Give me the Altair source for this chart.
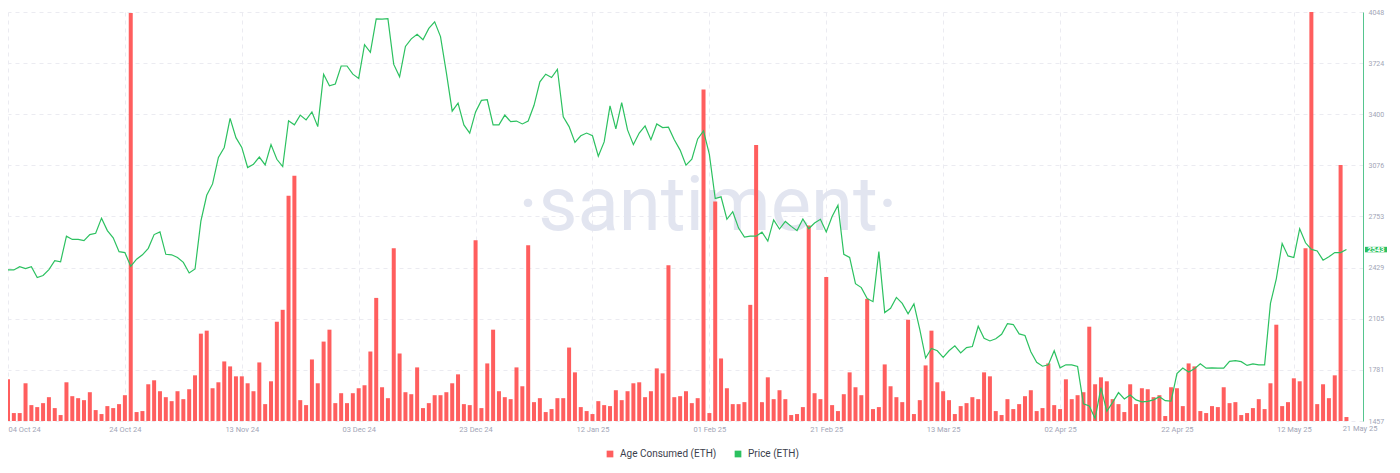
import altair as alt
import pandas as pd

# ---------------- data ----------------
start_date = "2024-10-04"
n_days = 230
dates = pd.date_range(start_date, periods=n_days, freq="D")

age_consumed = [
    42, 8, 8, 38, 16, 14, 18, 24, 13, 6,
    39, 25, 23, 21, 29, 11, 7, 15, 13, 17,
    26, 411, 9, 10, 37, 41, 30, 24, 20, 30,
    22, 32, 46, 88, 91, 33, 39, 60, 55, 45,
    45, 38, 30, 59, 17, 40, 100, 112, 227, 247,
    21, 16, 62, 38, 80, 92, 18, 28, 18, 28,
    33, 36, 70, 124, 34, 23, 174, 68, 29, 27,
    54, 13, 18, 26, 26, 29, 38, 47, 17, 16,
    182, 13, 58, 92, 30, 24, 22, 54, 35, 177,
    19, 23, 9, 12, 23, 23, 74, 49, 14, 10,
    7, 20, 16, 15, 31, 21, 30, 38, 39, 24,
    30, 53, 48, 157, 24, 25, 30, 18, 23, 334,
    8, 221, 63, 33, 17, 17, 19, 117, 278, 19,
    44, 22, 31, 22, 6, 7, 14, 197, 28, 22,
    145, 16, 10, 27, 49, 34, 26, 123, 12, 14,
    57, 35, 24, 19, 102, 7, 21, 56, 91, 39,
    30, 21, 7, 15, 18, 24, 22, 49, 45, 10,
    6, 22, 12, 17, 25, 31, 10, 13, 58, 16,
    12, 42, 22, 26, 29, 95, 37, 44, 40, 22,
    17, 9, 37, 17, 33, 32, 24, 26, 5, 34,
    33, 15, 58, 55, 10, 8, 15, 14, 34, 18,
    19, 6, 8, 13, 22, 12, 38, 97, 15, 19,
    43, 40, 174, 412, 17, 37, 23, 46, 258, 4,
]

price = [
    2414, 2414, 2435, 2422, 2435, 2366, 2379, 2416, 2472, 2466,
    2628, 2607, 2607, 2600, 2638, 2646, 2742, 2663, 2617, 2530,
    2524, 2437, 2482, 2510, 2551, 2638, 2655, 2513, 2510, 2493,
    2462, 2395, 2420, 2723, 2887, 2959, 3127, 3190, 3374, 3252,
    3190, 3063, 3084, 3129, 3079, 3208, 3115, 3069, 3359, 3333,
    3395, 3364, 3415, 3322, 3654, 3581, 3592, 3706, 3706, 3654,
    3627, 3841, 3793, 4004, 4003, 4006, 3716, 3637, 3830, 3878,
    3907, 3872, 3944, 3986, 3892, 3664, 3420, 3471, 3333, 3281,
    3415, 3488, 3492, 3333, 3333, 3395, 3353, 3357, 3339, 3357,
    3457, 3606, 3654, 3633, 3685, 3384, 3322, 3222, 3264, 3281,
    3264, 3135, 3225, 3453, 3308, 3474, 3301, 3208, 3281, 3326,
    3239, 3339, 3316, 3318, 3239, 3173, 3078, 3115, 3244, 3295,
    3146, 2866, 2877, 2735, 2783, 2679, 2622, 2628, 2628, 2653,
    2597, 2731, 2673, 2721, 2690, 2663, 2737, 2675, 2711, 2735,
    2655, 2752, 2824, 2513, 2493, 2327, 2302, 2233, 2213, 2530,
    2144, 2171, 2240, 2202, 2136, 2199, 2037, 1856, 1916, 1902,
    1860, 1902, 1933, 1888, 1922, 1929, 2057, 1981, 1964, 1978,
    2006, 2074, 2068, 2009, 1999, 1896, 1829, 1804, 1813, 1902,
    1794, 1813, 1813, 1802, 1566, 1552, 1473, 1669, 1518, 1575,
    1637, 1597, 1622, 1591, 1578, 1581, 1591, 1611, 1586, 1583,
    1757, 1792, 1767, 1788, 1819, 1792, 1794, 1792, 1792, 1835,
    1840, 1833, 1809, 1819, 1813, 1813, 2202, 2358, 2582, 2503,
    2493, 2675, 2586, 2544, 2534, 2476, 2497, 2524, 2524, 2543,
]

tick_dates = ["2024-10-04", "2024-10-24", "2024-11-13", "2024-12-03",
              "2024-12-23", "2025-01-12", "2025-02-01", "2025-02-21",
              "2025-03-13", "2025-04-02", "2025-04-22", "2025-05-12"]
end_label = ["21 May 25"]
price_ticks = [1457, 1781, 2105, 2429, 2753, 3076, 3400, 3724, 4048]
series_names = ["Age Consumed (ETH)", "Price (ETH)"]
series_colors = ["#ff5e5e", "#2cc160"]
watermark = ["·santiment·"]

# ---------------- layout ----------------
W, H = 1355, 409
FONT = "Roboto"
GRID = "#ebebf1"
LABEL = "#a2a5b6"

bars_df = pd.DataFrame({"date": dates, "value": age_consumed,
                        "series": series_names[0]})
price_df = pd.DataFrame({"date": dates, "price": price,
                         "series": series_names[1]})
last_df = pd.DataFrame({"date": [dates[-1]], "price": [price[-1]],
                        "label": [str(price[-1])]})


def dt(s, hours=0):
    t = pd.Timestamp(s)
    return alt.DateTime(year=t.year, month=t.month, date=t.day, hours=hours)


x_enc = alt.X(
    "date:T",
    scale=alt.Scale(domain=[dt("2024-10-04"), dt("2025-05-23", 20)],
                    nice=False, padding=0),
    axis=alt.Axis(values=[dt(d) for d in tick_dates], format="%d %b %y",
                  labelFlush=True, grid=True, gridDash=[4, 4], gridColor=GRID,
                  domain=False, ticks=False, labelFontSize=7.5,
                  labelColor=LABEL, labelPadding=4, labelFont=FONT, title=None),
)

color_enc = alt.Color(
    "series:N",
    scale=alt.Scale(domain=series_names, range=series_colors),
    legend=alt.Legend(orient="none", legendX=597, legendY=437,
                      direction="horizontal", title=None, symbolType="square",
                      symbolSize=45, symbolStrokeWidth=0, labelFontSize=10,
                      labelColor="#3b3e4c", labelFont=FONT, columnPadding=16,
                      labelOffset=5),
)

price_y = alt.Y(
    "price:Q",
    scale=alt.Scale(domain=[1457, 4048], nice=False, zero=False),
    axis=alt.Axis(orient="right", values=price_ticks, format="d", grid=True,
                  gridDash=[4, 4], gridColor=GRID, domainColor="#55c58f",
                  ticks=False, labelFontSize=7, labelColor=LABEL,
                  labelPadding=5, labelFont=FONT, title=None),
)

wm = alt.Chart(pd.DataFrame({"t": watermark})).mark_text(
    font=FONT, fontSize=76, fontWeight=400, color="#e2e5f0",
    align="center", baseline="alphabetic",
).encode(x=alt.value(700), y=alt.value(218), text="t:N")

bars = alt.Chart(bars_df).mark_bar(width=4, clip=True).encode(
    x=x_enc,
    y=alt.Y("value:Q", scale=alt.Scale(domain=[0, 412], nice=False), axis=None),
    color=color_enc,
)

line = alt.Chart(price_df).mark_line(strokeWidth=1.2, clip=True).encode(
    x=x_enc, y=price_y, color=alt.Color("series:N"),
)

badge = alt.Chart(last_df).mark_point(
    shape="M-1,-0.25L1,-0.25L1,0.25L-1,0.25Z", filled=True, size=484,
    opacity=1, strokeWidth=0, color=series_colors[1],
).encode(x=alt.value(W + 13), y=price_y)

badge_text = alt.Chart(last_df).mark_text(
    color="white", fontSize=7.5, fontWeight="bold", font=FONT,
    align="center", baseline="middle",
).encode(x=alt.value(W + 13), y=price_y, text="label:N")

end_text = alt.Chart(pd.DataFrame({"t": end_label})).mark_text(
    color=LABEL, fontSize=7.5, font=FONT, align="center", baseline="top",
).encode(x=alt.value(W - 3), y=alt.value(H + 4), text="t:N")

price_layer = alt.layer(line, badge, badge_text)

chart = alt.layer(wm, bars, price_layer, end_text).resolve_scale(
    y="independent"
).properties(
    width=W, height=H,
    padding={"left": 0, "top": 0, "right": 5, "bottom": 0},
    background="white",
).configure_view(strokeWidth=0)

chart.save("out.html", embed_options={"renderer": "svg", "actions": False})
